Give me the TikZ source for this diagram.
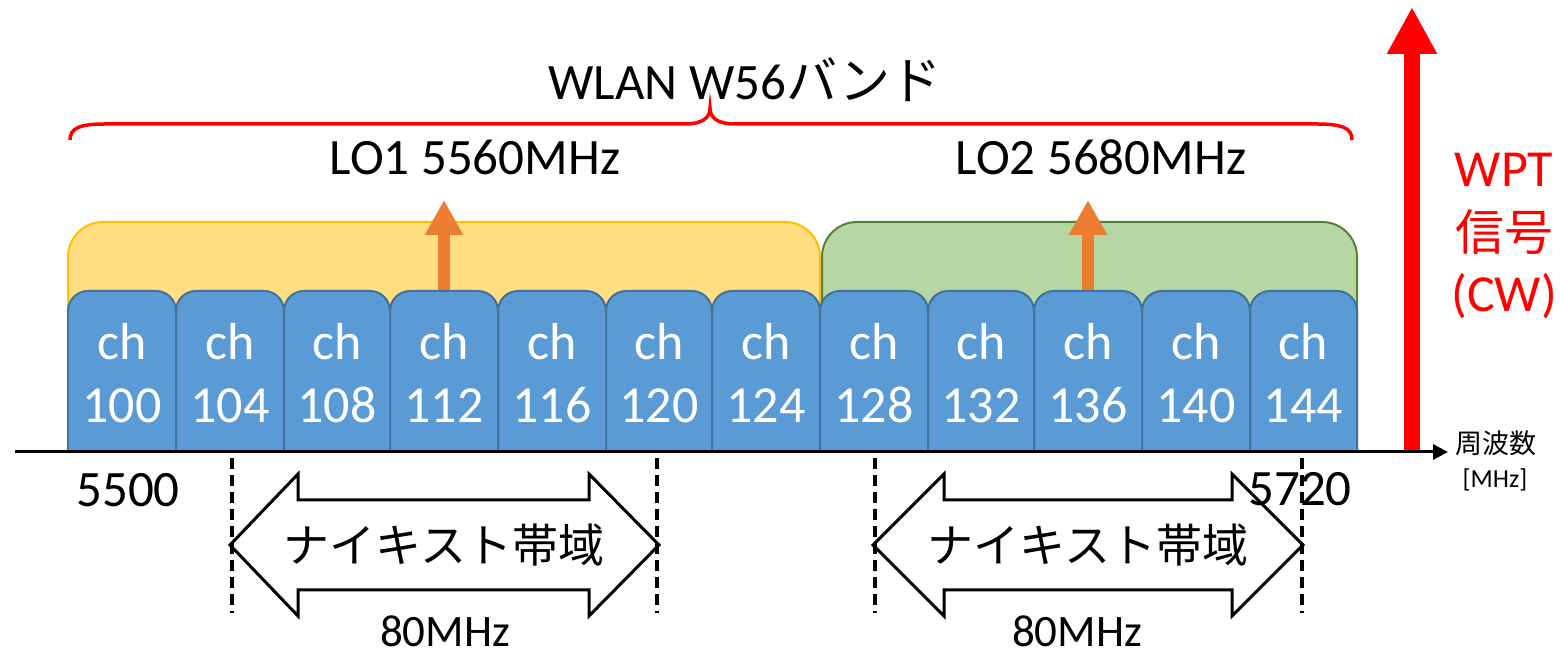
\documentclass[tikz,border=0pt]{standalone}
\usepackage{fontspec}
\setmainfont{Carlito}
\newfontfamily\jp{Noto Sans CJK JP}
\usetikzlibrary{arrows.meta}
\definecolor{chfill}{HTML}{5B9BD5}
\definecolor{chline}{HTML}{41719C}
\definecolor{yfill}{HTML}{FFDE82}
\definecolor{yline}{HTML}{FFC000}
\definecolor{gfill}{HTML}{B6D6A3}
\definecolor{gline}{HTML}{548235}
\definecolor{locol}{HTML}{ED7D31}
\definecolor{wred}{HTML}{FF0000}
\begin{document}
\begin{tikzpicture}[x=1pt,y=1pt,
  ybox/.style={fill=yfill,draw=yline,line width=2},
  gbox/.style={fill=gfill,draw=gline,line width=2},
  chbox/.style={fill=chfill,draw=chline,line width=2},
  chtext/.style={text=white,font=\fontsize{52}{60}\selectfont,anchor=base,inner sep=0},
  lbl/.style={text=black,font=\fontsize{51}{60}\selectfont,inner sep=0},
  loarrow/.style={locol,line width=12,-{Triangle[width=36pt,length=35pt]}},
  wptarrow/.style={wred,line width=16,-{Triangle[width=47pt,length=47pt]}},
  axis/.style={black,line width=3,-{Triangle[width=15pt,length=15pt]}},
  brace/.style={wred,line width=3.5},
  nyq/.style={draw=black,fill=white,line width=3,line join=miter},
  nyqtext/.style={font=\jp\fontsize{46}{50}\selectfont,inner sep=0},
  dashline/.style={black,line width=3.5,dash pattern=on 11pt off 6pt},
  wpt/.style={text=wred,font=\fontsize{52}{60}\selectfont,inner sep=0}
]
\useasboundingbox (0,0) rectangle (1560,658);

% LO groups
\draw[ybox] (68,206) -- (68,401) arc[start angle=180,end angle=90,radius=35]
  -- (785,436) arc[start angle=90,end angle=0,radius=35] -- (820,206) -- cycle;
\draw[gbox] (822,206) -- (822,401) arc[start angle=180,end angle=90,radius=35]
  -- (1322,436) arc[start angle=90,end angle=0,radius=35] -- (1357,206) -- cycle;

% LO arrows
\coordinate (lo1s) at (444,360);
\coordinate (lo1e) at (444,458);
\coordinate (lo2s) at (1088,360);
\coordinate (lo2e) at (1088,458);
\draw[loarrow] (lo1s) -- (lo1e);
\draw[loarrow] (lo2s) -- (lo2e);

% channels
\foreach \a/\b/\n in {68/176/100,176/284/104,284/390/108,390/498/112,498/606/116,606/712/120,712/820/124,820/928/128,928/1034/132,1034/1142/136,1142/1250/140,1250/1357/144}{
  \draw[chbox] (\a,206) -- (\a,347) arc[start angle=180,end angle=90,radius=20]
    -- ({\b-20},367) arc[start angle=90,end angle=0,radius=20] -- (\b,206) -- cycle;
  \node[chtext] (ch\n) at ({(\a+\b)/2},298) {ch};
  \node[chtext] (num\n) at ({(\a+\b)/2},235) {\n};
}

% WPT arrow
\coordinate (w0) at (1412,207);
\coordinate (w1) at (1412,651);
\draw[wptarrow] (w0) -- (w1);

% axis
\coordinate (ax0) at (15,206);
\coordinate (ax1) at (1448,206);
\draw[axis] (ax0) -- (ax1);

% brace
\draw[brace] (70,518) .. controls (70,530) and (80,534) .. (105,534)
  -- (685,534) .. controls (702,534) and (710,540) .. (710,550)
  .. controls (710,540) and (718,534) .. (735,534)
  -- (1317,534) .. controls (1342,534) and (1352,530) .. (1352,518);

% labels
\node[lbl] (wlan) at (745,578) {WLAN W56{\jp バンド}};
\node[lbl] (lo1) at (475,501) {LO1 5560MHz};
\node[lbl] (lo2) at (1101,501) {LO2 5680MHz};
\node[lbl] (f1) at (128,168) {5500};

% nyquist arrows
\draw[nyq] (230,113) -- (298,184) -- (298,158) -- (589,158) -- (589,184) -- (659,113)
  -- (589,42) -- (589,68) -- (298,68) -- (298,42) -- cycle;
\node[nyqtext] (nq1) at (444,113) {ナイキスト帯域};
\draw[nyq] (873,113) -- (944,184) -- (944,158) -- (1232,158) -- (1232,184) -- (1303,113)
  -- (1232,42) -- (1232,68) -- (944,68) -- (944,42) -- cycle;
\node[nyqtext] (nq2) at (1088,113) {ナイキスト帯域};

\node[lbl] (f2) at (1300,169) {5720};

% dashed limits
\foreach \x/\nm in {232/d1,657/d2,875/d3,1302/d4}{
  \coordinate (\nm t) at (\x,200);
  \coordinate (\nm b) at (\x,45);
  \draw[dashline] (\nm t) -- (\nm b);
}

\node[lbl,font=\fontsize{45}{50}\selectfont] (bw1) at (445,27) {80MHz};
\node[lbl,font=\fontsize{45}{50}\selectfont] (bw2) at (1077,27) {80MHz};

% WPT label
\node[wpt] (wpt1) at (1504,488) {WPT};
\node[wpt,font=\jp\fontsize{49}{50}\selectfont] (wpt2) at (1504,426) {信号};
\node[wpt] (wpt3) at (1504,362) {(CW)};

\node[inner sep=0,font=\jp\fontsize{27}{30}\selectfont] (freq) at (1496,215) {周波数};
\node[inner sep=0,font=\fontsize{26}{30}\selectfont] (mhz) at (1495,178) {[MHz]};
\end{tikzpicture}
\end{document}
